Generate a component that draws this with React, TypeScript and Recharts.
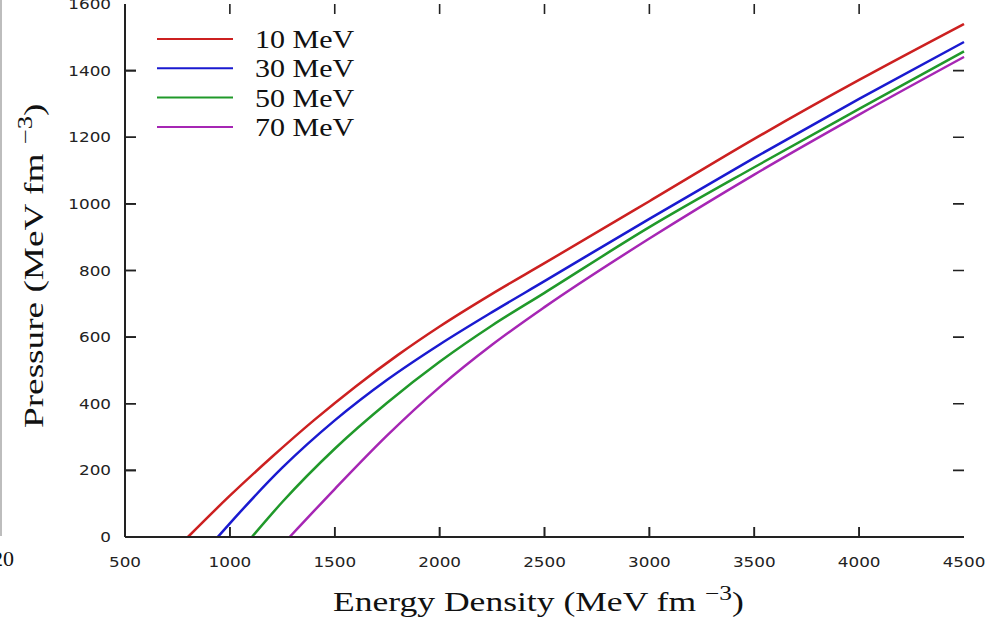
import React from "react";
import { LineChart, Line, XAxis, YAxis, Legend, ReferenceLine } from "recharts";

// energy density (MeV fm^-3) / pressure (MeV fm^-3)
const E_10 = [800, 1000, 1200, 1400, 1600, 1800, 2000, 2250, 2500, 3000, 3500, 4000, 4500];
const P_10 = [0, 124, 240, 350, 452, 546, 632, 730, 822, 1008, 1195, 1372, 1540];

const E_30 = [942, 1000, 1250, 1500, 1750, 2000, 2250, 2500, 3000, 3500, 4000, 4500];
const P_30 = [0, 41, 208, 350, 472, 578, 675, 768, 955, 1138, 1315, 1486];

const E_50 = [1105, 1250, 1500, 1750, 2000, 2250, 2500, 3000, 3500, 4000, 4500];
const P_50 = [0, 105, 265, 403, 526, 635, 733, 930, 1110, 1285, 1458];

const E_70 = [1285, 1500, 1750, 2000, 2250, 2500, 3000, 3500, 4000, 4500];
const P_70 = [0, 144, 305, 450, 577, 690, 896, 1088, 1268, 1441];

const X_TICKS = [500, 1000, 1500, 2000, 2500, 3000, 3500, 4000, 4500];
const Y_TICKS = [0, 200, 400, 600, 800, 1000, 1200, 1400, 1600];

const X_MIN = 500;
const X_MAX = 4500;
const Y_MIN = 0;
const Y_MAX = 1600;
const TICK_PX = 10;

const W = 987;
const H = 639;
const MARGIN = { top: 4, right: 23, bottom: 72, left: 65 };
const Y_AXIS_W = 60;
const X_AXIS_H = 30;
const PLOT_L = MARGIN.left + Y_AXIS_W;
const PLOT_T = MARGIN.top;
const PLOT_W = W - PLOT_L - MARGIN.right;
const PLOT_H = H - PLOT_T - MARGIN.bottom - X_AXIS_H;

const toPoints = (e: number[], p: number[]) => e.map((x, i) => ({ e: x, p: p[i] }));

const SERIES = [
  { name: "10 MeV", color: "#cc2020", data: toPoints(E_10, P_10) },
  { name: "30 MeV", color: "#1a1ad0", data: toPoints(E_30, P_30) },
  { name: "50 MeV", color: "#20992a", data: toPoints(E_50, P_50) },
  { name: "70 MeV", color: "#a626b4", data: toPoints(E_70, P_70) },
];

const AXIS = "#222";
const TICK_FONT = "'DejaVu Sans', sans-serif";
const SERIF = "'Liberation Serif', 'Times New Roman', serif";

const BottomTick = (props: any) => {
  const { x, y, payload } = props;
  return (
    <text
      transform={`translate(${x},${y + 30}) scale(1.2,1)`}
      textAnchor="middle"
      fontFamily={TICK_FONT}
      fontSize={14}
      fill="#222"
    >
      {payload.value}
    </text>
  );
};

const LeftTick = (props: any) => {
  const { x, y, payload } = props;
  return (
    <text
      transform={`translate(${x - 14},${y + 5}) scale(1.2,1)`}
      textAnchor="end"
      fontFamily={TICK_FONT}
      fontSize={14}
      fill="#222"
    >
      {payload.value}
    </text>
  );
};

// full-height reference line drawn as two short inward stubs (bottom + top tick)
const VStubs = (props: any) => {
  const { x1, y1, y2 } = props;
  const top = Math.min(y1, y2);
  const bot = Math.max(y1, y2);
  return (
    <path
      d={`M${x1},${bot}V${bot - TICK_PX}M${x1},${top}V${top + TICK_PX}`}
      stroke={AXIS}
      strokeWidth={1.6}
      fill="none"
    />
  );
};

// full-width reference line drawn as left + right inward stubs
const HStubs = (props: any) => {
  const { x1, x2, y1 } = props;
  const l = Math.min(x1, x2);
  const r = Math.max(x1, x2);
  return (
    <path
      d={`M${l},${y1}H${l + TICK_PX + 1}M${r},${y1}H${r - TICK_PX - 1}`}
      stroke={AXIS}
      strokeWidth={1.6}
      fill="none"
    />
  );
};

// left/bottom inward ticks again, on a layer above the chart svg
const EdgeTicks = () => {
  const base = PLOT_T + PLOT_H;
  const xs = X_TICKS.slice(1, -1).map((v) => PLOT_L + ((v - X_MIN) / (X_MAX - X_MIN)) * PLOT_W);
  const ys = Y_TICKS.slice(1, -1).map((v) => base - ((v - Y_MIN) / (Y_MAX - Y_MIN)) * PLOT_H);
  const d =
    xs.map((px) => `M${px.toFixed(1)},${base}V${base - TICK_PX}`).join("") +
    ys.map((py) => `M${PLOT_L},${py.toFixed(1)}H${PLOT_L + TICK_PX + 1}`).join("");
  return (
    <svg
      width={W}
      height={H}
      style={{ position: "absolute", left: 0, top: 0, pointerEvents: "none", zIndex: 5 }}
    >
      <path d={d} stroke={AXIS} strokeWidth={1.6} fill="none" />
    </svg>
  );
};

const XTitle = () => (
  <text transform="translate(333,611) scale(1.27,1)" fontFamily={SERIF} fontSize={28} fill="#111">
    Energy Density (MeV fm{" "}
    <tspan fontSize={20} dy={-11}>−3</tspan>
    <tspan dy={11}>)</tspan>
  </text>
);

const YTitle = () => (
  <g>
    {/* scan edge left over from the source image */}
    <line x1={1} y1={0} x2={1} y2={536} stroke="#bdbdbd" strokeWidth={2} />
    <text x={14} y={566} textAnchor="end" fontFamily={SERIF} fontSize={22} fill="#111">
      20
    </text>
    <text transform="translate(43,428) rotate(-90) scale(1.33,1)" fontFamily={SERIF} fontSize={28} fill="#111">
      Pressure (MeV fm{" "}
      <tspan fontSize={20} dy={-11}>−3</tspan>
      <tspan dy={11}>)</tspan>
    </text>
  </g>
);

const LegendBox = (props: any) => {
  const items = props.payload || [];
  return (
    <svg width={230} height={120}>
      {items.map((it: any, i: number) => (
        <g key={it.value}>
          <line x1={7} x2={83} y1={15 + i * 29.3} y2={15 + i * 29.3} stroke={it.color} strokeWidth={2} />
          <text
            transform={`translate(105,${24 + i * 29.3}) scale(1.2,1)`}
            fontFamily={SERIF}
            fontSize={25}
            fill="#111"
          >
            {it.value}
          </text>
        </g>
      ))}
    </svg>
  );
};

const axisLine = { stroke: AXIS, strokeWidth: 2 };

export default function App() {
  return (
    <div style={{ position: "absolute", left: 0, top: 0, width: W, height: H, background: "#fff" }}>
      <LineChart width={W} height={H} margin={MARGIN}>
        <XAxis
          xAxisId="bottom"
          type="number"
          dataKey="e"
          domain={[X_MIN, X_MAX]}
          ticks={X_TICKS}
          height={X_AXIS_H}
          tickLine={false}
          tickSize={0}
          tickMargin={0}
          axisLine={axisLine}
          tick={<BottomTick />}
          interval={0}
          label={{ content: () => <XTitle /> }}
        />
        <XAxis
          xAxisId="top"
          orientation="top"
          type="number"
          domain={[X_MIN, X_MAX]}
          ticks={X_TICKS}
          height={0}
          tickLine={false}
          axisLine={axisLine}
          tick={false}
        />
        <YAxis
          yAxisId="left"
          type="number"
          dataKey="p"
          domain={[Y_MIN, Y_MAX]}
          ticks={Y_TICKS}
          width={Y_AXIS_W}
          tickLine={false}
          tickSize={0}
          tickMargin={0}
          axisLine={axisLine}
          tick={<LeftTick />}
          interval={0}
          label={{ content: () => <YTitle /> }}
        />
        <YAxis
          yAxisId="right"
          orientation="right"
          type="number"
          domain={[Y_MIN, Y_MAX]}
          ticks={Y_TICKS}
          width={0}
          tickLine={false}
          axisLine={axisLine}
          tick={false}
        />
        {/* mirrored inward tick marks, gnuplot style */}
        {X_TICKS.slice(1, -1).map((v) => (
          <ReferenceLine key={`vx${v}`} xAxisId="bottom" yAxisId="left" x={v} shape={<VStubs />} ifOverflow="visible" />
        ))}
        {Y_TICKS.slice(1, -1).map((v) => (
          <ReferenceLine key={`hy${v}`} xAxisId="bottom" yAxisId="left" y={v} shape={<HStubs />} ifOverflow="visible" />
        ))}
        <Legend
          layout="vertical"
          align="center"
          verticalAlign="middle"
          content={<LegendBox />}
          wrapperStyle={{ left: 150, top: 24, width: 230, height: 120 }}
        />
        {SERIES.map((s) => (
          <Line
            key={s.name}
            xAxisId="bottom"
            yAxisId="left"
            data={s.data}
            dataKey="p"
            name={s.name}
            type="monotone"
            stroke={s.color}
            strokeWidth={2.5}
            dot={false}
            isAnimationActive={false}
          />
        ))}
      </LineChart>
      <EdgeTicks />
    </div>
  );
}
